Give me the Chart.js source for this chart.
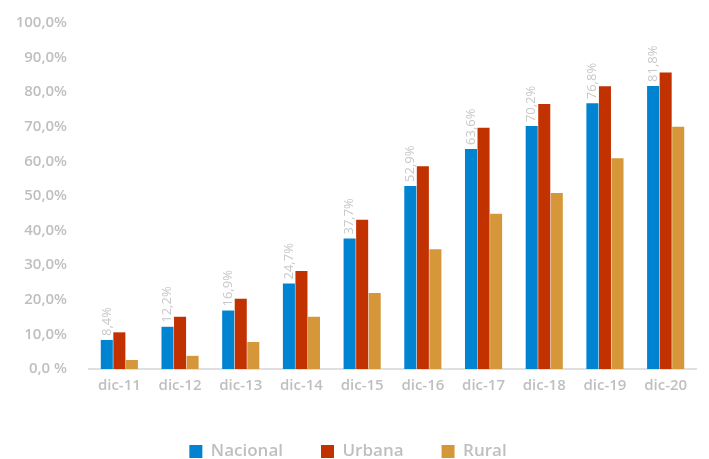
<!DOCTYPE html>
<html>
<head>
<meta charset="utf-8">
<script src="https://cdn.jsdelivr.net/npm/chart.js@4/dist/chart.umd.min.js"></script>
<style>
    html, body { margin: 0; padding: 0; background: #fff; }
    #wrap { width: 709px; height: 459px; position: relative; }
</style>
</head>
<body>
<div id="wrap"><canvas id="chart"></canvas></div>
<script>
const categories = ["dic-11", "dic-12", "dic-13", "dic-14", "dic-15", "dic-16", "dic-17", "dic-18", "dic-19", "dic-20"];
const nacional = [8.4, 12.2, 16.9, 24.7, 37.7, 52.9, 63.6, 70.2, 76.8, 81.8];
const urbana = [10.6, 15.1, 20.3, 28.3, 43.1, 58.6, 69.7, 76.6, 81.7, 85.7];
const rural = [2.6, 3.8, 7.8, 15.1, 22.0, 34.6, 44.9, 50.9, 60.9, 70.0];

const grey = "#bfbfbf";
const fmt = (v) => v.toFixed(1).replace(".", ",");

// vertical value labels above the Nacional bars
const nacionalLabels = {
    id: "nacionalLabels",
    afterDatasetsDraw(chart) {
        const ctx = chart.ctx;
        const meta = chart.getDatasetMeta(0);
        ctx.save();
        ctx.font = "13px 'Open Sans'";
        ctx.fillStyle = "#c8c8c8";
        ctx.textAlign = "left";
        ctx.textBaseline = "middle";
        meta.data.forEach((bar, i) => {
            ctx.save();
            ctx.translate(bar.x, bar.y - 4);
            ctx.rotate(-Math.PI / 2);
            ctx.fillText(fmt(nacional[i]) + "%", 0, 0);
            ctx.restore();
        });
        ctx.restore();
    },
};

new Chart(document.getElementById("chart"), {
    type: "bar",
    data: {
        labels: categories,
        datasets: [
            { label: "Nacional", data: nacional, backgroundColor: "#0083d0" },
            { label: "Urbana", data: urbana, backgroundColor: "#c23100" },
            { label: "Rural", data: rural, backgroundColor: "#d6973a" },
        ],
    },
    options: {
        responsive: true,
        maintainAspectRatio: false,
        animation: false,
        datasets: {
            bar: { barPercentage: 0.96, categoryPercentage: 0.62 },
        },
        layout: { padding: { top: 12, right: 13, left: 0, bottom: -11 } },
        plugins: {
            tooltip: { enabled: false },
            legend: {
                position: "bottom",
                labels: {
                    boxWidth: 13,
                    boxHeight: 13,
                    padding: 38,
                    color: grey,
                    font: { family: "'Open Sans'", size: 17, weight: "600" },
                },
            },
        },
        scales: {
            x: {
                grid: { display: false },
                border: { display: true, color: "#e0e0e0", width: 2 },
                ticks: {
                    color: grey,
                    padding: 0,
                    font: { family: "'Open Sans'", size: 15, weight: "600" },
                },
                afterFit: (scale) => { scale.height = 36; },
            },
            y: {
                min: 0,
                max: 100,
                grid: { display: false },
                border: { display: false },
                ticks: {
                    stepSize: 10,
                    color: grey,
                    padding: 14,
                    font: { family: "'Open Sans'", size: 15, weight: "600" },
                    callback: (v) => (v === 0 ? "0,0 %" : fmt(v) + "%"),
                },
                afterFit: (scale) => { scale.width = 89; },
            },
        },
    },
    plugins: [nacionalLabels],
});
</script>
</body>
</html>
